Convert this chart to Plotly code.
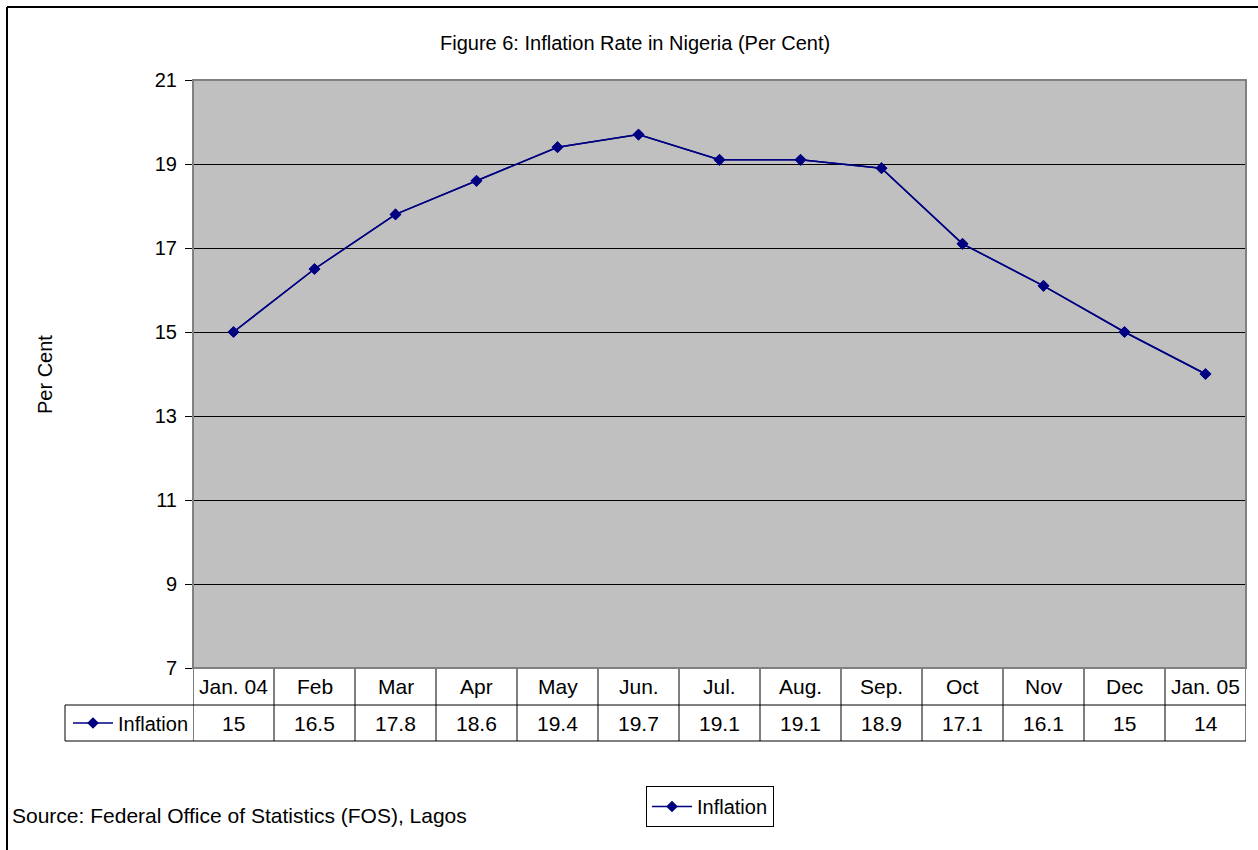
import plotly.graph_objects as go

categories = ["Jan. 04", "Feb", "Mar", "Apr", "May", "Jun.", "Jul.", "Aug.", "Sep.", "Oct", "Nov", "Dec", "Jan. 05"]
inflation = [15, 16.5, 17.8, 18.6, 19.4, 19.7, 19.1, 19.1, 18.9, 17.1, 16.1, 15, 14]
y_ticks = [7, 9, 11, 13, 15, 17, 19, 21]
series_name = "Inflation"
title_text = "Figure 6: Inflation Rate in Nigeria (Per Cent)"
y_title = "Per Cent"
source_text = "Source: Federal Office of Statistics (FOS), Lagos"

W, H = 1258, 850
FONT = "Liberation Sans, Arial, sans-serif"
NAVY = "#000080"

def px(x):
    return x / W

def py(y):
    return 1 - y / H

plot_l, plot_r, plot_t, plot_b = 193, 1246, 80, 668
row1_b, row2_b = 705, 741
left_cell = 65

fig = go.Figure()
for leg in ["legend", "legend2"]:
    fig.add_trace(go.Scatter(
        x=categories, y=inflation, mode="lines+markers", name=series_name,
        line=dict(color=NAVY, width=1.5),
        marker=dict(symbol="diamond", size=9, color=NAVY),
        legend=leg, showlegend=True, hoverinfo="x+y",
    ))

shapes = []
line_k = dict(color="black", width=1)
# outer chart border (top & left)
shapes.append(dict(type="line", xref="paper", yref="paper", x0=px(7), x1=1, y0=py(7), y1=py(7), line=dict(color="black", width=2)))
shapes.append(dict(type="line", xref="paper", yref="paper", x0=px(7), x1=px(7), y0=py(7), y1=0, line=dict(color="black", width=2)))

# table: vertical column lines via category axis positions
n = len(categories)
for i in range(n + 1):
    shapes.append(dict(type="line", xref="x", yref="paper", x0=i - 0.5, x1=i - 0.5,
                       y0=py(plot_b), y1=py(row2_b), line=line_k))
# horizontal table lines
shapes.append(dict(type="line", xref="paper", yref="paper", x0=px(plot_l), x1=px(plot_r),
                   y0=py(plot_b), y1=py(plot_b), line=line_k))
shapes.append(dict(type="line", xref="paper", yref="paper", x0=px(left_cell), x1=px(plot_r),
                   y0=py(row1_b), y1=py(row1_b), line=line_k))
shapes.append(dict(type="line", xref="paper", yref="paper", x0=px(left_cell), x1=px(plot_r),
                   y0=py(row2_b), y1=py(row2_b), line=line_k))
shapes.append(dict(type="line", xref="paper", yref="paper", x0=px(left_cell), x1=px(left_cell),
                   y0=py(row1_b), y1=py(row2_b), line=line_k))
# plot-area border
shapes.append(dict(type="rect", xref="paper", yref="paper", x0=px(plot_l), x1=px(plot_r),
                   y0=py(plot_b), y1=py(plot_t), line=dict(color="#808080", width=2), layer="above"))

annotations = []
for c in categories:
    annotations.append(dict(x=c, xref="x", y=py((plot_b + row1_b) / 2), yref="paper",
                            text=c, showarrow=False, font=dict(size=21, color="black", family=FONT),
                            xanchor="center", yanchor="middle"))
for c, v in zip(categories, inflation):
    annotations.append(dict(x=c, xref="x", y=py((row1_b + row2_b) / 2), yref="paper",
                            text=f"{v:g}", showarrow=False, font=dict(size=21, color="black", family=FONT),
                            xanchor="center", yanchor="middle"))
annotations.append(dict(x=px(635), y=py(43), xref="paper", yref="paper", text=title_text,
                        showarrow=False, font=dict(size=20, color="black", family=FONT),
                        xanchor="center", yanchor="middle"))
annotations.append(dict(x=px(45), y=py(375), xref="paper", yref="paper", text=y_title, textangle=-90,
                        showarrow=False, font=dict(size=20, color="black", family=FONT),
                        xanchor="center", yanchor="middle"))
annotations.append(dict(x=px(10), y=py(815), xref="paper", yref="paper", text=source_text,
                        showarrow=False, font=dict(size=21, color="black", family=FONT),
                        xanchor="left", yanchor="middle"))

fig.update_layout(
    width=W, height=H, margin=dict(l=0, r=0, t=0, b=0, autoexpand=False),
    paper_bgcolor="white", plot_bgcolor="#C0C0C0",
    font=dict(family=FONT, color="black"),
    xaxis=dict(domain=[px(plot_l), px(plot_r)], type="category", categoryorder="array",
               categoryarray=categories, range=[-0.5, n - 0.5], showticklabels=False,
               showgrid=False, zeroline=False, showline=False, ticks="", automargin=False),
    yaxis=dict(domain=[py(plot_b), py(plot_t)], range=[7, 21], tickvals=y_ticks,
               showgrid=True, gridcolor="black", gridwidth=1, zeroline=False,
               showline=False, ticks="outside", ticklen=7, tickcolor="black",
               tickfont=dict(size=20, family=FONT, color="black"), ticklabelstandoff=4,
               automargin=False),
    legend=dict(x=px(646), y=py(786), xanchor="left", yanchor="top",
                bordercolor="black", borderwidth=1, bgcolor="white",
                font=dict(size=20, family=FONT, color="black"), itemwidth=40,
                tracegroupgap=0),
    legend2=dict(x=px(68), y=py((row1_b + row2_b) / 2), xanchor="left", yanchor="middle",
                 borderwidth=0, bgcolor="rgba(0,0,0,0)",
                 font=dict(size=20, family=FONT, color="black"), itemwidth=40),
    shapes=shapes, annotations=annotations, showlegend=True,
)

fig.write_html("out.html", config={"displayModeBar": False},
               post_script="document.body.style.margin='0';")
